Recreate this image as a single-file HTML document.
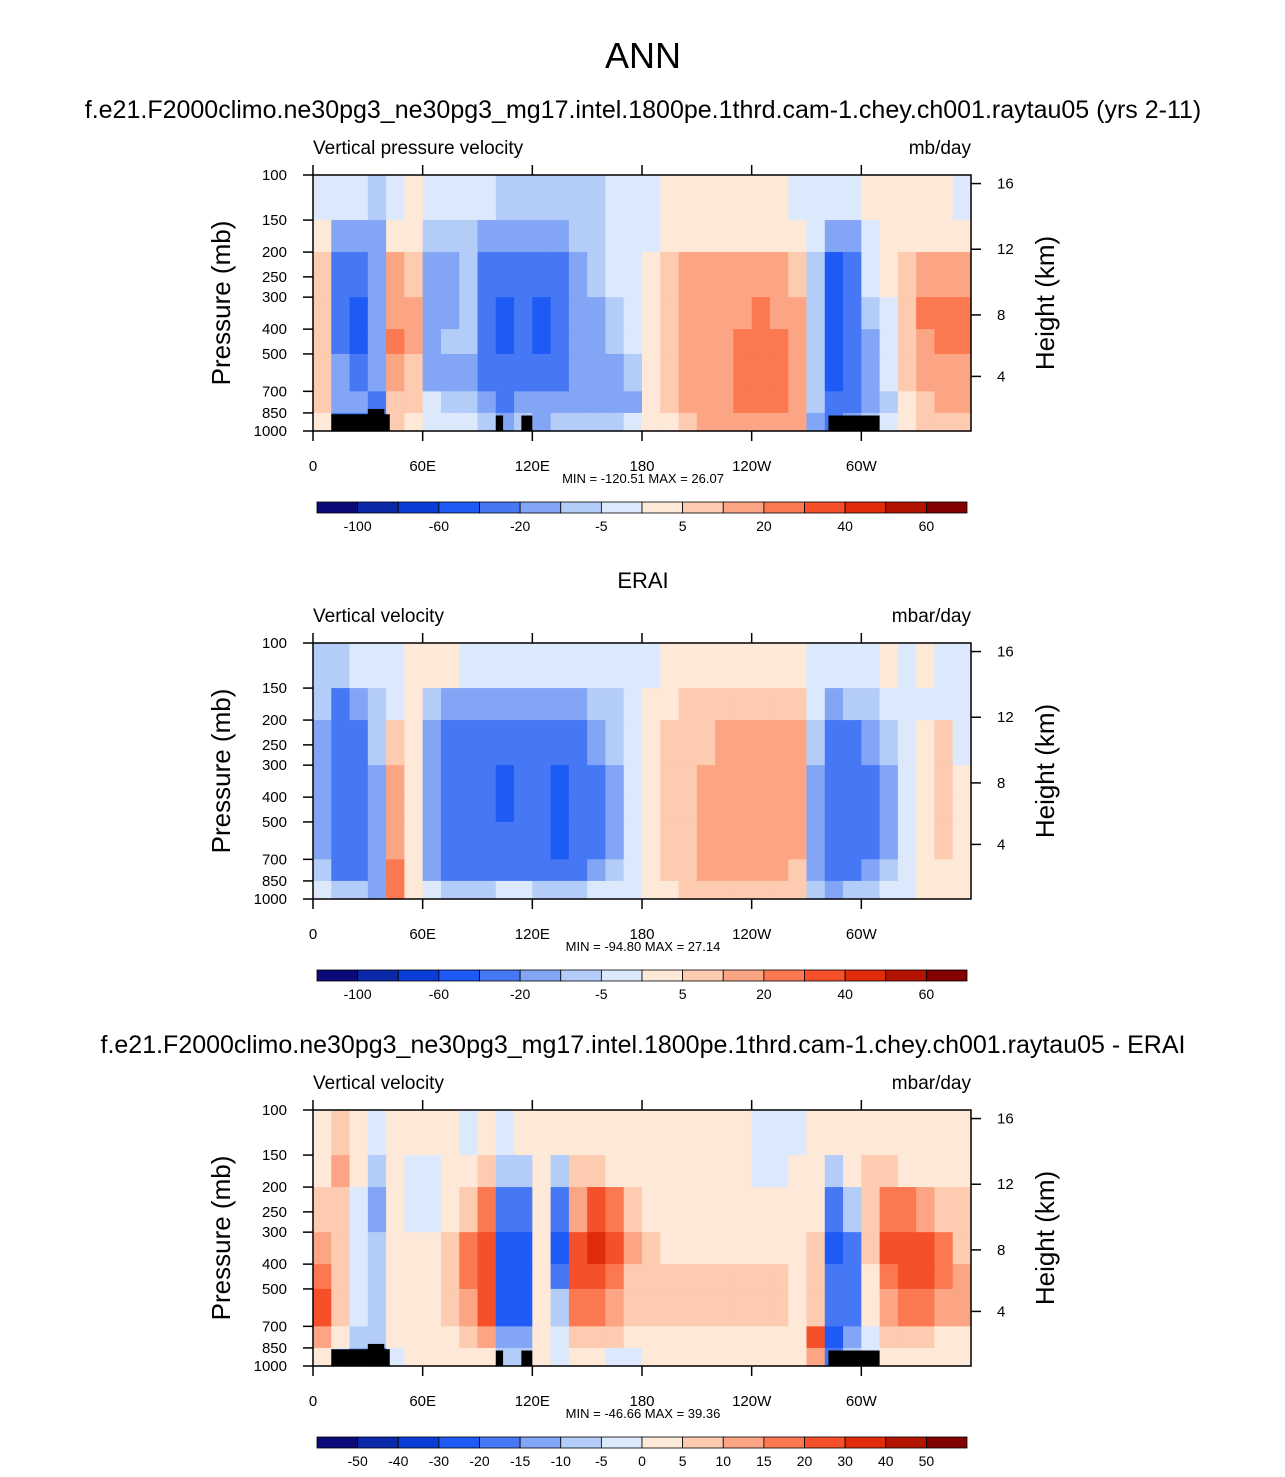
<!DOCTYPE html>
<html><head><meta charset="utf-8">
<style>
body{margin:0;background:#fff;}
svg text{font-family:"Liberation Sans",Arial,sans-serif;fill:#000;}
</style></head>
<body>
<svg id="chart" width="1285" height="1472" viewBox="0 0 1285 1472" xmlns="http://www.w3.org/2000/svg">
<text x="643" y="68" font-size="36" text-anchor="middle">ANN</text>
<text x="643" y="118" font-size="25" text-anchor="middle">f.e21.F2000climo.ne30pg3_ne30pg3_mg17.intel.1800pe.1thrd.cam-1.chey.ch001.raytau05 (yrs 2-11)</text>
<text x="643" y="588" font-size="22" text-anchor="middle">ERAI</text>
<text x="643" y="1053" font-size="25" text-anchor="middle">f.e21.F2000climo.ne30pg3_ne30pg3_mg17.intel.1800pe.1thrd.cam-1.chey.ch001.raytau05 - ERAI</text>
<g id="panels"></g>
</svg>
<script>
const colors=["#0a0a78","#0a28a8","#0a3cd8","#1e5af5","#4678f5","#82a5f5","#b4cdf8","#dce9fc","#fee8d8","#fdcbb0","#fca585","#fb7850","#f5502a","#e02c0a","#b21400","#820000"];
const levelsAbs=[-100,-80,-60,-40,-20,-10,-5,0,5,10,20,30,40,50,60];
const levelsDiff=[-50,-40,-30,-20,-15,-10,-5,0,5,10,15,20,30,40,50];
const labelsAbs=["-100","-60","-20","-5","5","20","40","60"];
const labelsDiff=["-50","-40","-30","-20","-15","-10","-5","0","5","10","15","20","30","40","50"];
const pressureEdges=[100,150,200,300,400,500,700,850,1000];
const p1=[
[-3,-3,-3,-8,-3,2,-3,-3,-3,-3,-8,-8,-8,-8,-8,-8,-3,-3,-3,2,2,2,2,2,2,2,-2,-2,-3,-3,2,2,2,2,2,-3],
[2,-15,-15,-15,3,3,-8,-8,-8,-15,-15,-15,-15,-15,-8,-8,-3,-3,-3,3,3,3,3,3,3,3,3,-3,-15,-15,-3,3,3,3,3,3],
[8,-25,-30,-20,15,8,-15,-15,-8,-30,-30,-25,-30,-25,-15,-8,-3,-3,3,8,15,15,15,15,15,15,8,-10,-45,-30,-5,3,8,15,15,15],
[8,-25,-45,-20,18,10,-15,-15,-10,-40,-45,-30,-45,-30,-20,-15,-8,-3,3,8,15,15,15,18,25,15,15,-10,-50,-35,-8,-3,8,20,25,25],
[8,-25,-45,-20,25,10,-15,-8,-10,-35,-45,-30,-45,-30,-20,-15,-8,-3,3,8,15,15,18,25,25,25,15,-10,-60,-35,-15,-3,5,15,25,25],
[5,-20,-30,-20,12,5,-15,-15,-15,-25,-30,-25,-30,-25,-20,-15,-15,-8,3,8,15,15,18,25,25,25,15,-10,-45,-30,-15,-5,5,12,15,15],
[5,-15,-20,-25,5,5,-5,-10,-10,-20,-25,-20,-20,-20,-20,-20,-20,-15,3,5,12,15,18,25,25,22,12,-10,-40,-25,-20,-10,3,8,10,10],
[3,-30,-35,-40,8,2,-5,-5,-5,-8,-15,-10,-15,-10,-8,-8,-8,-5,2,3,8,10,12,15,15,15,10,-15,-40,-20,-10,-5,3,5,8,8]];
const p2=[
[-8,-8,-5,-3,-3,2,2,2,-3,-3,-3,-3,-3,-3,-3,-3,-3,-3,-3,2,2,2,2,2,2,2,2,-3,-3,-3,-3,2,-3,2,-3,-3],
[-10,-25,-15,-8,-3,2,-8,-15,-15,-15,-20,-15,-15,-15,-15,-10,-8,-3,3,3,5,5,5,5,5,5,5,-5,-15,-10,-8,-3,-3,-3,-3,-3],
[-15,-30,-30,-10,8,2,-15,-30,-30,-35,-35,-30,-30,-35,-30,-20,-10,-5,3,5,8,8,12,12,12,12,12,-10,-25,-30,-20,-10,-5,3,5,-3],
[-15,-40,-40,-15,12,3,-20,-35,-35,-40,-45,-30,-35,-45,-40,-30,-15,-5,3,8,8,15,15,15,15,15,15,-15,-30,-40,-30,-15,-5,3,8,3],
[-15,-40,-40,-15,12,3,-20,-35,-35,-40,-45,-30,-40,-45,-40,-30,-15,-5,3,8,8,15,15,15,15,15,15,-15,-30,-40,-30,-15,-5,3,8,3],
[-15,-35,-35,-15,12,3,-20,-30,-30,-35,-35,-30,-40,-45,-40,-30,-15,-5,3,8,8,12,12,12,12,12,12,-15,-35,-35,-30,-15,-5,3,5,3],
[-10,-30,-30,-20,20,3,-15,-25,-25,-25,-30,-25,-25,-30,-25,-20,-10,-3,3,5,8,12,12,12,12,12,8,-20,-35,-30,-20,-10,-3,3,3,3],
[-5,-8,-10,-15,20,2,-5,-8,-8,-8,-5,-5,-8,-8,-8,-5,-3,-3,2,3,5,5,5,5,5,5,5,-10,-20,-10,-8,-5,-3,2,3,3]];
const p3=[
[3,8,3,-3,3,3,3,3,-3,3,-3,3,3,3,3,3,3,3,3,3,3,3,3,3,-3,-3,-3,3,3,3,3,3,3,3,3,3],
[3,12,3,-8,3,-3,-3,3,3,8,-8,-8,3,-8,8,8,3,3,3,3,3,3,3,3,-3,-3,3,3,-8,3,8,8,3,3,3,3],
[8,8,-3,-15,3,-3,-3,3,8,15,-20,-20,3,-20,12,20,15,8,3,3,3,3,3,3,3,3,3,3,-20,-10,8,15,15,12,8,8],
[12,8,-3,-10,3,3,3,8,15,25,-25,-25,3,-30,25,30,20,12,8,3,3,3,3,3,3,3,3,8,-25,-20,8,20,25,25,15,8],
[15,8,-3,-8,3,3,3,8,15,25,-25,-25,3,-20,20,25,15,8,8,8,8,8,8,5,5,5,3,8,-20,-20,3,15,25,25,15,10],
[25,8,-3,-8,3,3,3,8,10,20,-25,-25,3,-10,15,15,12,8,8,8,8,8,8,8,8,5,3,8,-20,-20,3,10,15,15,12,10],
[10,3,-10,-10,3,3,3,3,8,10,-15,-15,3,-3,8,8,5,3,3,3,3,3,3,3,3,3,3,20,-25,-15,-3,8,8,5,3,3],
[3,-3,-15,-20,-3,3,3,3,3,3,-10,-8,3,-3,3,3,-3,-3,3,3,3,3,3,3,3,3,3,10,-20,-10,-3,3,3,3,3,3]];
const pTicks=[100,150,200,250,300,400,500,700,850,1000];
const hTicks=[16,12,8,4];
const hTickP=[108,195,352,612];
const lonTicks=[0,60,120,180,240,300];
const lonLabels=["0","60E","120E","180","120W","60W"];
const topo=[[10,42,860],[30,39,820],[100,104,870],[114,120,870],[282,310,870]];
const panelMeta=[
 {top:175,data:p1,lev:levelsAbs,lab:labelsAbs,left:"Vertical pressure velocity",right:"mb/day",mm:"MIN = -120.51  MAX =  26.07",topo:true,labStep:2},
 {top:643,data:p2,lev:levelsAbs,lab:labelsAbs,left:"Vertical velocity",right:"mbar/day",mm:"MIN = -94.80  MAX =  27.14",topo:false,labStep:2},
 {top:1110,data:p3,lev:levelsDiff,lab:labelsDiff,left:"Vertical velocity",right:"mbar/day",mm:"MIN = -46.66  MAX =  39.36",topo:true,labStep:1}];
const NS="http://www.w3.org/2000/svg";
const X0=313,W=658,H=256;
function xs(lon){return X0+lon/360*W;}
function ys(top,p){return top+Math.log10(p/100)*H;}
function colorFor(v,lev){let i=0;while(i<lev.length&&v>=lev[i])i++;return colors[i];}
function mk(tag,attrs,parent){const e=document.createElementNS(NS,tag);for(const k in attrs)e.setAttribute(k,attrs[k]);parent.appendChild(e);return e;}
const root=document.getElementById('panels');
panelMeta.forEach((m,pi)=>{
 const g=mk('g',{},root);
 
 
 const ncol=m.data[0].length;
 m.data.forEach((row,ri)=>{
  const y1=ys(m.top,pressureEdges[ri]),y2=ys(m.top,pressureEdges[ri+1]);
  row.forEach((v,ci)=>{
   const x1=xs(ci*360/ncol),x2=xs((ci+1)*360/ncol);
   const r=mk('rect',{x:x1,y:y1,width:x2-x1+0.6,height:y2-y1+0.6,fill:colorFor(v,m.lev)},g);
   
   
  });
 });
 if(m.topo){topo.forEach(t=>{
  const r=mk('rect',{x:xs(t[0]),y:ys(m.top,t[2]),width:xs(t[1])-xs(t[0]),height:m.top+H-ys(m.top,t[2]),fill:'#000'},g);
  
  
 });}
 const fr=mk('rect',{x:X0,y:m.top,width:W,height:H,fill:'none',stroke:'#000','stroke-width':1.5},g);
 
 
 pTicks.forEach(p=>{const y=ys(m.top,p);
  mk('line',{x1:X0-10,x2:X0,y1:y,y2:y,stroke:'#000','stroke-width':1.5},g);
  const t=mk('text',{x:X0-26,y:y+5,'font-size':15,'text-anchor':'end'},g);t.textContent=p;
  
  });
 hTicks.forEach((h,i)=>{const y=ys(m.top,hTickP[i]);
  mk('line',{x1:X0+W,x2:X0+W+10,y1:y,y2:y,stroke:'#000','stroke-width':1.5},g);
  const t=mk('text',{x:X0+W+26,y:y+5,'font-size':15},g);t.textContent=h;
  
  });
 lonTicks.forEach((l,i)=>{const x=xs(l);
  mk('line',{x1:x,x2:x,y1:m.top+H,y2:m.top+H+10,stroke:'#000','stroke-width':1.5},g);
  mk('line',{x1:x,x2:x,y1:m.top,y2:m.top-10,stroke:'#000','stroke-width':1.5},g);
  const t=mk('text',{x:x,y:m.top+H+40,'font-size':15,'text-anchor':'middle'},g);t.textContent=lonLabels[i];
  
  });
 let t=mk('text',{x:X0,y:m.top-21,'font-size':19},g);t.textContent=m.left;
 
 
 t=mk('text',{x:X0+W,y:m.top-21,'font-size':19,'text-anchor':'end'},g);t.textContent=m.right;
 
 
 t=mk('text',{x:643,y:m.top+H+52,'font-size':13,'text-anchor':'middle'},g);t.textContent=m.mm;
 
 
 t=mk('text',{x:0,y:0,'font-size':26,'text-anchor':'middle',transform:`translate(230,${m.top+128}) rotate(-90)`},g);t.textContent='Pressure (mb)';
 
 
 t=mk('text',{x:0,y:0,'font-size':26,'text-anchor':'middle',transform:`translate(1054,${m.top+128}) rotate(-90)`},g);t.textContent='Height (km)';
 
 
 const cbY=m.top+327,cbX=317,bw=650/16;
 colors.forEach((c,i)=>{const r=mk('rect',{x:cbX+i*bw,y:cbY,width:bw,height:11,fill:c,stroke:'#000','stroke-width':0.8},g);
  
  });
 m.lab.forEach((l,i)=>{const b=m.labStep===2?1+2*i:1+i;
  const tt=mk('text',{x:cbX+b*bw,y:cbY+29,'font-size':14,'text-anchor':'middle'},g);tt.textContent=l;
  
  });
});
</script>
</body></html>
